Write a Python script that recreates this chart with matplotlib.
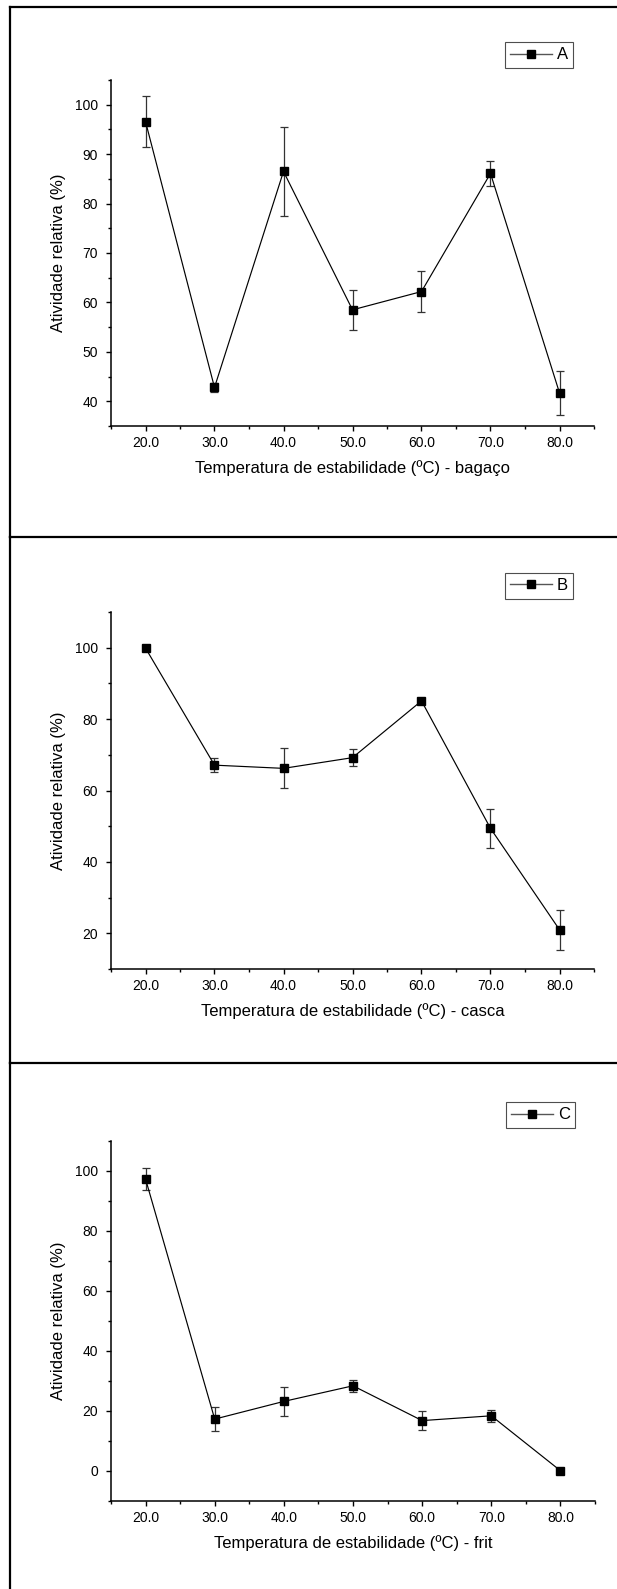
import matplotlib
matplotlib.use("Agg")
import matplotlib.pyplot as plt
from matplotlib.lines import Line2D
from matplotlib.ticker import MultipleLocator, FormatStrFormatter

plt.rcParams["font.family"] = ["Liberation Sans", "DejaVu Sans"]

# temperatures (ºC)
temps = [20, 30, 40, 50, 60, 70, 80]

# relative activity (%) and error for each residue
act_bagaco = [96.6, 42.8, 86.5, 58.5, 62.2, 86.1, 41.7]
err_bagaco = [5.1, 0.9, 9.0, 4.0, 4.1, 2.5, 4.5]

act_casca = [99.9, 67.1, 66.2, 69.2, 85.1, 49.4, 21.0]
err_casca = [0.5, 1.9, 5.6, 2.3, 0.4, 5.4, 5.6]

act_frit = [97.3, 17.3, 23.2, 28.4, 16.8, 18.4, 0.1]
err_frit = [3.7, 4.1, 4.9, 1.9, 3.1, 2.0, 0.3]

labels = ["A", "B", "C"]
xlabels = [
    "Temperatura de estabilidade (ºC) - bagaço",
    "Temperatura de estabilidade (ºC) - casca",
    "Temperatura de estabilidade (ºC) - frit",
]
ylims = [(35, 105), (10, 110), (-10, 110)]
ymajor = [10, 20, 20]

W, H = 617, 1589
fig = plt.figure(figsize=(W / 100, H / 100), dpi=100)

# axes boxes in pixels: left, right, top, bottom
boxes = [(111, 594, 80, 426), (111, 594, 612, 969), (111, 595, 1141, 1501)]
# legend upper-right corners in pixels
leg_pos = [(573, 42), (573, 573), (575, 1102)]

series = [(act_bagaco, err_bagaco), (act_casca, err_casca), (act_frit, err_frit)]

for i, (vals, errs) in enumerate(series):
    l, r, t, b = boxes[i]
    ax = fig.add_axes([l / W, 1 - b / H, (r - l) / W, (b - t) / H])
    ax.errorbar(temps, vals, yerr=errs, color="black", ecolor="#333333",
                elinewidth=0.9, capsize=2.7, capthick=0.9, lw=0.85,
                marker="s", markersize=5.8)
    ax.set_xlim(15, 85)
    ax.set_ylim(*ylims[i])
    ax.xaxis.set_major_locator(MultipleLocator(10))
    ax.xaxis.set_minor_locator(MultipleLocator(5))
    ax.xaxis.set_major_formatter(FormatStrFormatter("%.1f"))
    ax.yaxis.set_major_locator(MultipleLocator(ymajor[i]))
    ax.yaxis.set_minor_locator(MultipleLocator(ymajor[i] / 2))
    for s in ["top", "right"]:
        ax.spines[s].set_visible(False)
    for s in ["left", "bottom"]:
        ax.spines[s].set_linewidth(1.1)
    ax.tick_params(which="major", direction="out", length=3.5, width=1.0,
                   labelsize=10, pad=4)
    ax.tick_params(which="minor", direction="out", length=2.5, width=1.0)
    ax.tick_params(axis="y", which="major", pad=6)
    ax.set_xlabel(xlabels[i], fontsize=12, labelpad=7)
    ax.set_ylabel("Atividade relativa (%)", fontsize=12, labelpad=6)
    handle = Line2D([], [], color="#555555", lw=1.0, marker="s",
                    markersize=5.8, markerfacecolor="black",
                    markeredgecolor="black")
    lx, ly = leg_pos[i]
    leg = ax.legend([handle], [labels[i]], loc="upper right",
                    bbox_to_anchor=(lx / W, 1 - ly / H),
                    bbox_transform=fig.transFigure, borderaxespad=0,
                    fontsize=12, handlelength=2.5, handletextpad=0.3,
                    borderpad=0.32, frameon=True, fancybox=False)
    leg.get_frame().set_edgecolor("#222222")
    leg.get_frame().set_linewidth(0.8)

# frames around the three panels
def px(x, y):
    return x / W, 1 - y / H

frame = dict(color="black", lw=1.6, transform=fig.transFigure)
for y0 in [6.5, 536.5, 1063]:
    xs, ys = zip(px(10, y0), px(617, y0))
    fig.add_artist(Line2D(xs, ys, **frame))
for y0, y1 in [(6.5, 536.5), (536.5, 1063), (1063, 1589)]:
    xs, ys = zip(px(10.5, y0), px(10.5, y1))
    fig.add_artist(Line2D(xs, ys, **frame))

fig.savefig("out.png", dpi=100)
